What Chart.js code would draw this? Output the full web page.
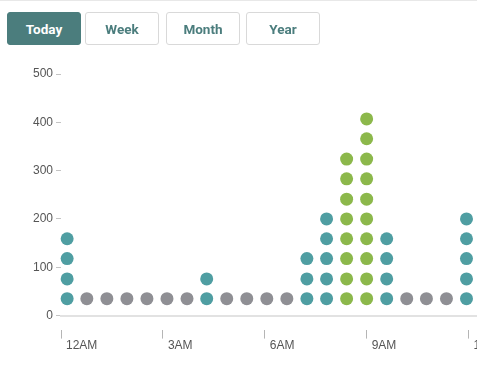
<!DOCTYPE html>
<html>
<head>
<meta charset="utf-8">
<script src="https://cdn.jsdelivr.net/npm/chart.js@4/dist/chart.umd.min.js"></script>
<style>
  html, body { margin: 0; padding: 0; background: #fff; overflow: hidden; }
  body { width: 477px; height: 373px; position: relative; border-top: 1px solid #e8e8e8; box-sizing: border-box; }
  .tabs button {
    position: absolute; top: 11px; height: 33px; width: 74px;
    font: 700 13.5px Roboto, sans-serif; color: #4b7d7d;
    background: #fff; border: 1px solid #d9d9d9; border-radius: 3px; z-index: 2;
  }
  .tabs button.on { background: #4b7d7d; border-color: #4b7d7d; color: #fff; }
  #wrap { position: absolute; left: 0; top: -1px; width: 500px; height: 373px; }
</style>
</head>
<body>
<div class="tabs">
  <button class="on" style="left:7px">Today</button>
  <button style="left:85px">Week</button>
  <button style="left:166px">Month</button>
  <button style="left:246px">Year</button>
</div>
<div id="wrap"><canvas id="dotChart"></canvas></div>
<script>
// time slots (hours after midnight), dots per slot, and the kind of each slot
const slotHours = [0.18, 0.76, 1.35, 1.94, 2.53, 3.12, 3.71, 4.29, 4.88, 5.47, 6.06,
                   6.65, 7.24, 7.82, 8.41, 9.0, 9.59, 10.18, 10.76, 11.35, 11.94];
const slotCounts = [4, 1, 1, 1, 1, 1, 1, 2, 1, 1, 1, 1, 3, 5, 8, 10, 4, 1, 1, 1, 5];
const slotKinds = ['mid', 'low', 'low', 'low', 'low', 'low', 'low', 'mid', 'low', 'low', 'low',
                   'low', 'mid', 'mid', 'high', 'high', 'mid', 'low', 'low', 'low', 'mid'];
// y value of each stacked dot row
const dotLevels = [35, 76, 118, 159, 200, 241, 283, 324, 366, 407];
const xTickHours = [0, 3, 6, 9, 12];
const xTickLabels = ['12AM', '3AM', '6AM', '9AM', '12PM'];
const yTicks = [0, 100, 200, 300, 400, 500];

const kindColors = { low: '#8f8f94', mid: '#4f9ea2', high: '#8cb84b' };

function pointsFor(kind) {
    const pts = [];
    slotHours.forEach((h, i) => {
        if (slotKinds[i] !== kind) return;
        for (let k = 0; k < slotCounts[i]; k++) pts.push({ x: h, y: dotLevels[k] });
    });
    return pts;
}

const datasets = ['low', 'mid', 'high'].map(kind => ({
    data: pointsFor(kind),
    backgroundColor: kindColors[kind],
    borderWidth: 0,
    pointRadius: 6.5,
    pointHoverRadius: 6.5,
    clip: false
}));

const ctx = document.getElementById('dotChart').getContext('2d');
new Chart(ctx, {
    type: 'scatter',
    data: { datasets },
    options: {
        responsive: true,
        maintainAspectRatio: false,
        animation: false,
        events: [],
        layout: { padding: { top: 74, left: 30, right: 0, bottom: 20 } },
        plugins: { legend: { display: false }, tooltip: { enabled: false } },
        scales: {
            x: {
                type: 'linear',
                min: 0,
                max: 12.24,
                afterBuildTicks: s => { s.ticks = xTickHours.map(v => ({ value: v })); },
                border: { display: true, color: '#e2e2e2', width: 2 },
                grid: {
                    drawOnChartArea: false,
                    tickLength: 23,
                    tickColor: '#b5b5b5',
                    tickWidth: 1,
                    tickBorderDash: [0, 13, 10, 40]
                },
                ticks: {
                    align: 'start',
                    labelOffset: 5,
                    padding: 0,
                    color: '#555',
                    font: { family: 'Liberation Sans, Arial, sans-serif', size: 12 },
                    callback: v => xTickLabels[xTickHours.indexOf(v)]
                }
            },
            y: {
                min: 0,
                max: 500,
                afterBuildTicks: s => { s.ticks = yTicks.map(v => ({ value: v })); },
                border: { display: false },
                grid: { drawOnChartArea: false, tickLength: 5, tickColor: '#c4c4c4' },
                ticks: {
                    padding: 3,
                    color: '#555',
                    font: { family: 'Liberation Sans, Arial, sans-serif', size: 12 }
                }
            }
        }
    }
});
</script>
</body>
</html>
